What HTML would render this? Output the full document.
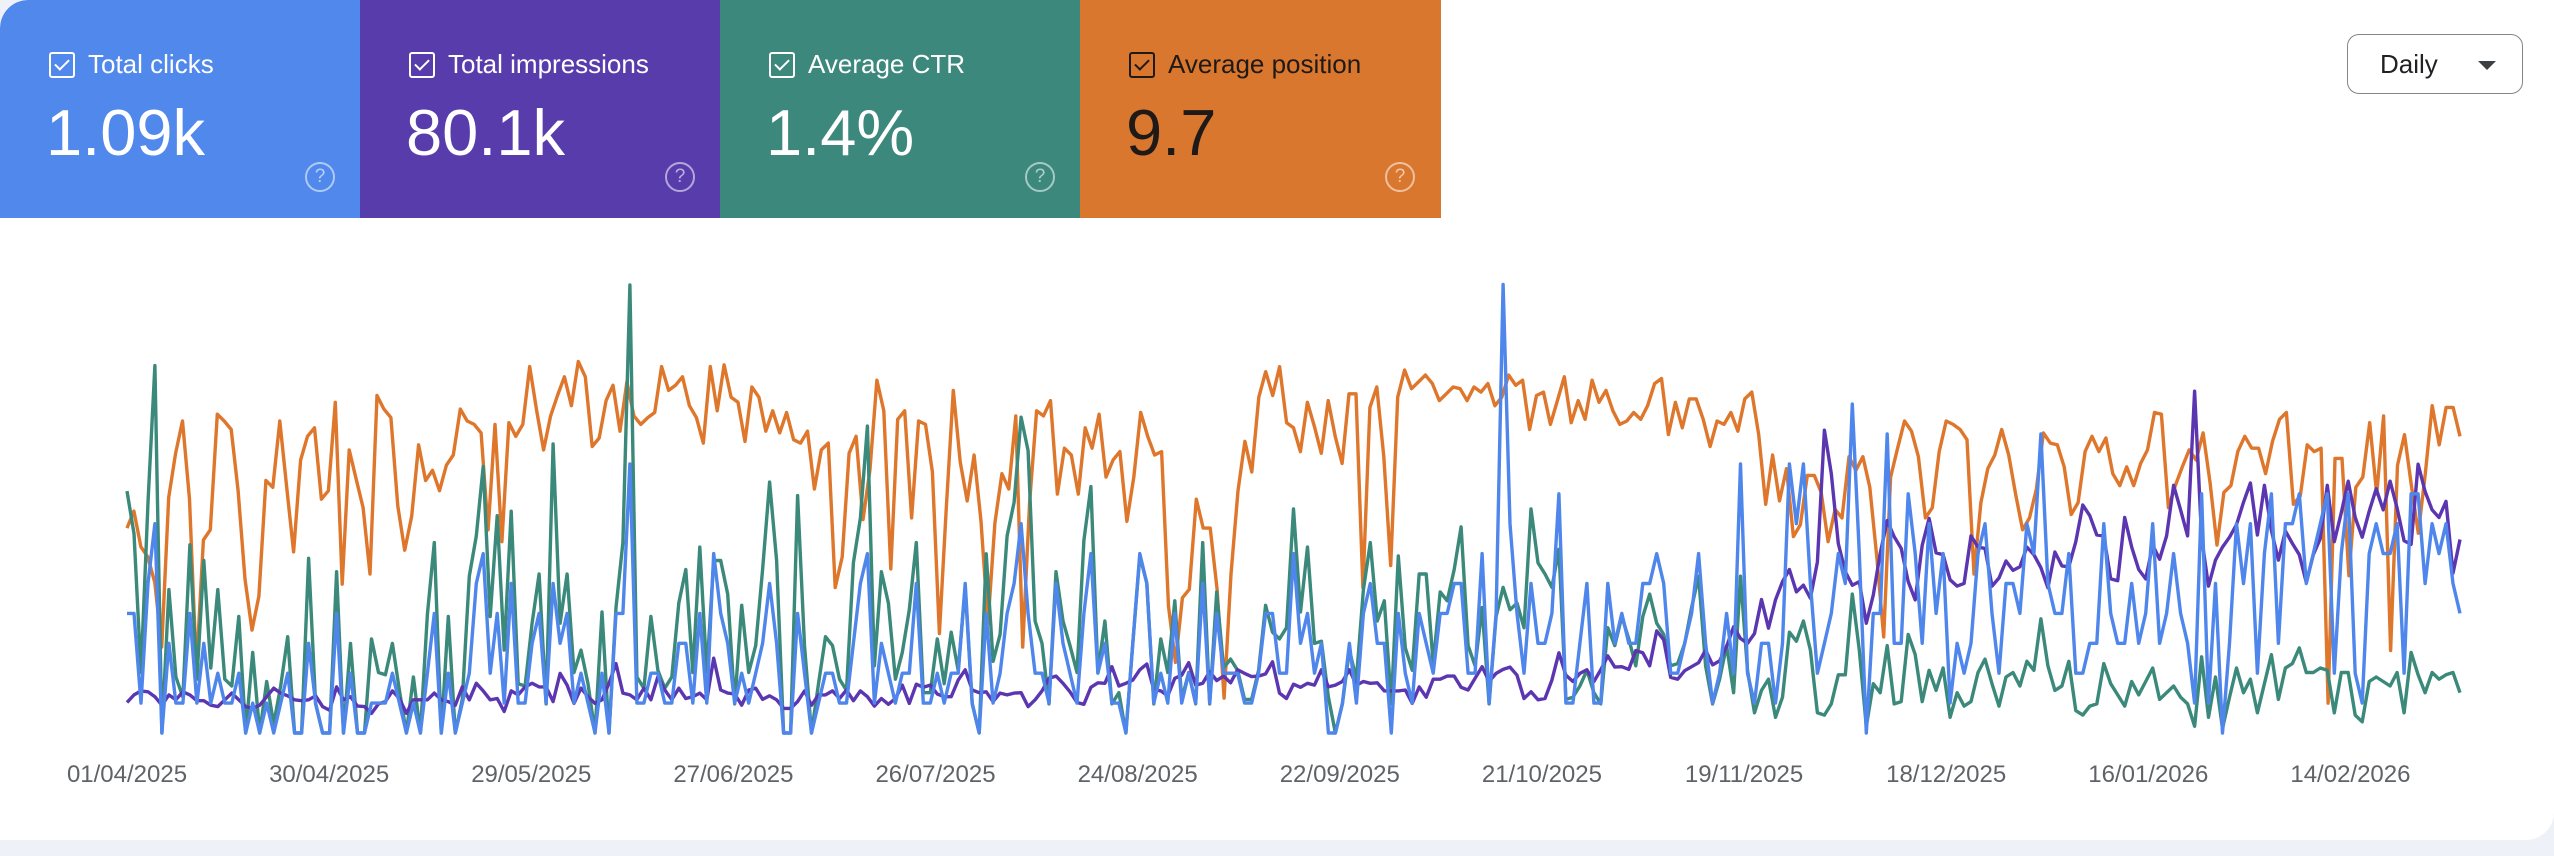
<!DOCTYPE html>
<html><head><meta charset="utf-8">
<style>
html,body{margin:0;padding:0;}
body{width:2554px;height:856px;background:#eef2f8;font-family:"Liberation Sans",Arial,sans-serif;overflow:hidden;position:relative;}
#panel{position:absolute;left:0;top:0;width:2554px;height:840px;background:#fff;border-radius:28px 0 28px 0;overflow:hidden;}
.card{position:absolute;top:0;width:360px;height:218px;color:#fff;}
.cb{position:absolute;left:49px;top:52px;width:22px;height:22px;border:2px solid currentColor;border-radius:3px;}
.cb::after{content:"";position:absolute;left:7px;top:2px;width:6px;height:12px;border-right:2px solid currentColor;border-bottom:2px solid currentColor;transform:rotate(45deg);}
.lbl{position:absolute;left:88px;top:48px;font-size:26px;line-height:32px;}
.num{position:absolute;left:46px;top:96px;font-size:65px;line-height:74px;}
.q{position:absolute;left:305px;top:162px;width:26px;height:26px;border:2px solid rgba(255,255,255,0.55);border-radius:50%;color:rgba(255,255,255,0.6);font-size:19px;line-height:26px;text-align:center;}
#daily{position:absolute;left:2347px;top:34px;width:176px;height:60px;border:1.5px solid #80868b;border-radius:12px;box-sizing:border-box;font-size:26px;color:#202124;}
#daily span{position:absolute;left:32px;top:14px;}
#daily i{position:absolute;left:130px;top:26px;width:0;height:0;border-left:9px solid transparent;border-right:9px solid transparent;border-top:9px solid #3c4043;}
svg{position:absolute;left:0;top:0;}
</style></head><body>
<div id="panel">
<div class="card" style="left:0;background:#5088ec;border-top-left-radius:28px"><div class="cb"></div><div class="lbl">Total clicks</div><div class="num">1.09k</div><div class="q">?</div></div>
<div class="card" style="left:360px;background:#583cab"><div class="cb"></div><div class="lbl">Total impressions</div><div class="num">80.1k</div><div class="q">?</div></div>
<div class="card" style="left:720px;background:#3c887c"><div class="cb"></div><div class="lbl">Average CTR</div><div class="num">1.4%</div><div class="q">?</div></div>
<div class="card" style="left:1080px;width:361px;background:#d9772f;color:#1f1a17"><div class="cb"></div><div class="lbl">Average position</div><div class="num">9.7</div><div class="q" style="border-color:rgba(255,255,255,0.55)">?</div></div>
<div id="daily"><span>Daily</span><i></i></div>
<svg id="chart" width="2554" height="840"></svg>
</div>
<script>
const tickDays=[0,29,58,87,116,145,174,203,232,261,290,319];
const tickLabels=["01/04/2025","30/04/2025","29/05/2025","27/06/2025","26/07/2025","24/08/2025","22/09/2025","21/10/2025","19/11/2025","18/12/2025","16/01/2026","14/02/2026"];
const position=[14.3,13.3,15.4,16.0,17.5,21.3,12.5,9.9,8.0,12.6,22.6,15.0,14.4,7.6,8.0,8.5,12.1,17.3,20.3,18.3,11.5,11.9,8.0,11.9,15.7,10.3,8.9,8.4,12.6,12.1,6.9,17.6,9.7,11.4,13.1,17.0,6.5,7.3,7.8,13.0,15.6,13.6,9.4,11.5,10.9,12.1,10.6,10.0,7.3,8.0,8.2,8.7,14.4,8.2,15.1,8.1,8.9,8.2,4.8,7.4,9.7,7.7,6.5,5.4,7.1,4.5,5.4,9.5,9.0,6.8,5.9,8.6,5.7,7.7,8.2,7.8,7.5,4.8,6.2,5.9,5.4,7.1,7.8,9.3,4.8,
7.4,4.7,6.6,6.9,9.2,6.0,6.6,8.6,7.4,8.7,7.5,9.1,9.3,8.6,12.0,9.7,9.3,17.8,16.0,9.9,8.9,13.8,10.9,5.6,7.4,16.7,7.9,7.4,13.7,8.0,8.2,11.0,20.5,13.1,6.2,10.4,12.7,10.0,13.9,19.9,14.0,11.1,12.0,7.7,21.3,12.8,7.4,7.7,6.8,12.3,9.6,10.0,12.3,8.4,9.6,7.6,11.3,10.3,9.8,13.9,11.3,7.5,8.9,10.0,9.8,18.9,22.2,18.4,17.9,12.6,14.3,14.3,17.9,24.3,17.0,12.1,9.2,11.0,6.6,5.1,6.5,4.8,8.1,8.4,9.8,6.9,
8.3,9.9,6.8,8.9,10.5,6.4,6.4,17.8,7.2,6.0,10.1,16.5,6.6,5.0,6.1,5.7,5.3,5.8,6.8,6.4,6.0,6.1,6.8,6.0,6.3,5.8,7.1,6.6,5.3,5.9,5.6,8.5,6.5,6.3,8.2,6.8,5.4,8.1,6.8,7.9,5.6,6.9,6.2,7.4,8.2,8.0,7.5,7.9,7.1,5.8,5.5,8.8,6.9,8.4,6.7,6.7,7.9,9.5,8.0,8.2,7.5,8.6,6.7,6.3,8.8,12.9,10.0,12.7,10.8,14.8,14.1,11.2,11.2,12.2,15.1,13.2,13.7,10.1,10.9,10.1,11.9,16.0,20.7,11.3,9.6,8.0,8.6,10.1,
13.7,13.1,9.8,8.0,8.2,8.5,9.1,17.0,12.8,10.8,10.0,8.5,10.0,12.3,14.4,13.7,12.0,8.7,9.3,9.4,10.7,13.5,12.8,9.8,8.9,9.8,9.0,11.1,11.8,10.7,11.8,10.5,9.7,7.5,7.6,13.1,11.8,10.7,9.7,10.3,8.7,11.6,15.3,12.2,11.8,9.8,8.9,9.6,9.6,11.1,9.2,7.9,7.5,12.9,12.4,9.4,9.8,9.6,24.6,10.2,10.2,17.1,11.9,11.3,8.1,12.3,7.7,21.5,10.6,8.8,11.8,14.6,11.1,7.1,9.4,7.2,7.2,8.9];
const clicks=[4,4,1,5,7,0,3,1,1,4,1,3,1,2,1,1,2,0,1,0,1,0,1,2,0,0,3,1,0,0,4,0,2,0,0,1,1,1,2,1,0,1,0,2,4,0,2,0,1,2,5,6,2,4,1,5,1,1,3,4,1,5,3,4,1,2,1,0,2,0,4,4,9,1,1,2,2,1,1,3,3,1,4,1,6,
4,3,1,2,1,2,3,5,3,0,0,4,2,0,1,2,2,1,1,3,5,6,1,3,2,1,2,2,5,1,1,2,1,2,2,5,1,0,4,1,2,4,5,7,4,2,2,1,5,3,2,1,4,6,2,3,1,1,0,3,6,5,1,2,1,4,1,2,1,5,1,4,2,2,2,1,1,2,4,4,2,2,6,3,4,2,
3,0,0,1,3,1,4,5,3,3,0,4,2,1,4,3,2,4,4,5,5,2,2,6,1,4,15,7,4,2,5,3,3,4,8,1,1,3,5,1,1,5,3,4,3,3,5,5,6,5,2,2,3,4,6,3,1,2,4,2,9,2,1,3,3,1,3,9,7,9,5,2,3,4,6,5,11,6,0,4,4,10,3,3,8,6,
3,7,4,6,1,3,2,3,6,7,4,2,5,5,4,7,6,10,5,4,4,6,2,2,3,3,7,4,3,3,5,3,4,7,3,4,6,4,3,1,8,1,5,0,3,7,5,7,2,6,8,3,7,7,8,5,6,7,8,2,6,8,2,1,6,7,6,6,7,2,8,8,5,7,6,7,5,4];
const ctr=[10.8,8.9,2.7,10.3,16.4,0,6.4,2.5,1.6,8.4,2.4,7.7,2.9,6.4,2.4,2.1,5.2,0,3.6,0,2.3,0.4,2.1,4.3,0,0,7.8,1.3,0,0,7.2,0,4,0,0,4.2,2.7,2.6,4,1.9,0,2.5,0,5.3,8.5,0,5.2,0,1.5,7,8.8,11.9,5.2,9.7,3.7,9.9,2.2,2.1,4.9,7.1,1.3,12.9,4.9,7.1,2.7,3.7,2.2,0,5.4,0,5.6,8.5,20,2.5,2,5.2,2.8,2,2.5,5.8,7.3,2.7,8.3,2.7,7.7,
7.7,6.2,1.3,5.7,2.7,3.9,7.3,11.2,7.7,0,0,10.6,3.9,0,2.2,4.3,3.9,2.4,1.9,7.6,9.6,13.7,3,7.2,5.8,2.4,3.6,5.5,8.5,1.8,1.8,4.2,2.2,4.5,2.8,6.5,1.3,0,8,3.2,4.4,8.8,10.3,14.1,12.6,5,4,1.3,7.2,5,3.9,2.7,8.6,11,2.7,5,1.3,1.8,0,4,7.9,6.7,1.3,4.2,2.7,5.9,1.5,2.7,1.3,8.5,1.3,6.3,2.9,3.3,2.8,1.5,1.5,2.8,5.7,4.5,4.2,4.7,10,5.4,8.3,4,
4.1,1.6,0,1.3,3.7,2.4,6.4,8.5,5,5.9,1.3,7.9,3.8,2.8,7.1,7.1,3.1,6.3,5.9,7.3,9.2,3.9,3,5.6,1.3,5.2,6.5,5.5,5.8,4.7,10,7.6,7.1,6.5,8.2,1.5,1.6,2.1,2.8,1.8,1.3,4.7,3.9,5.2,4.2,3,5.2,6.2,4.9,4.4,3,3.1,4,5.6,7,3,1.3,2.4,3.9,1.8,7,2.8,0.9,1.9,2.4,0.7,1.6,4.5,4.1,5,3.7,0.9,0.8,1.3,2.6,2.6,6.2,3.7,0.3,2.2,1.8,3.9,1.3,1.4,4.4,3.5,
1.4,2.8,1.9,2.9,0.7,1.8,1.2,1.4,2.7,3.3,2.2,1.2,2.5,2.7,2.1,3.2,2.8,5.1,3,1.9,2.1,3.2,1,0.8,1.2,1.3,3.1,2.2,1.7,1.2,2.3,1.7,2.3,2.9,1.5,1.8,2.1,1.6,1.3,0.3,3.4,0.7,2.5,0.2,1.6,2.9,1.8,2.4,0.9,2.2,3.5,1.5,2.9,3.1,3.8,2.7,2.7,2.9,2.8,0.9,2.7,2.7,0.8,0.5,2.3,2.5,2.3,2.1,2.7,0.9,3.6,2.6,1.8,2.7,2.4,2.6,2.7,1.8];
const impressions=[68,85,94,92,81,62,85,74,92,85,72,72,62,59,74,89,74,59,55,62,81,100,89,83,74,72,74,83,59,51,103,74,81,60,59,44,65,70,94,77,44,74,74,74,89,74,70,62,103,74,111,94,74,77,48,94,85,103,111,103,103,70,133,107,66,100,81,66,74,111,155,89,85,74,100,74,126,96,74,100,77,81,89,74,167,
96,89,87,62,96,100,75,83,74,55,55,70,94,62,85,85,94,77,96,72,94,81,60,77,64,77,107,66,109,102,107,87,81,81,118,141,96,90,92,70,89,85,89,90,59,74,94,122,127,111,92,68,64,102,112,111,148,105,111,118,141,154,97,94,83,122,129,157,107,111,137,117,127,112,141,133,126,127,132,159,89,77,109,102,111,107,
141,103,107,115,141,107,115,111,112,94,94,94,96,66,103,80,120,120,127,127,102,96,122,148,115,133,142,147,129,77,92,74,77,118,179,129,115,133,141,115,141,172,147,148,142,184,179,150,228,208,124,120,139,148,157,185,152,161,193,237,211,200,222,298,234,297,338,365,315,330,301,382,676,579,423,360,330,338,245,308,401,474,438,412,338,297,
419,479,402,398,342,328,334,440,415,412,328,346,384,363,371,415,398,369,324,404,373,371,427,509,485,442,440,344,340,481,415,365,344,419,388,440,553,498,440,763,436,328,386,415,437,465,515,558,442,553,452,386,451,423,398,336,398,434,553,427,492,562,481,437,495,545,498,562,502,429,421,600,539,498,481,517,357,432];

const svg=document.getElementById('chart');
const NS='http://www.w3.org/2000/svg';
const nDays=clicks.length;
function xDay(i){return 127+i*(2460-127)/(nDays-1);}
function xSeries(i,len){return 127+i*(2460-127)/(len-1);}
function yPos(p){return 285+p*17;}
function yClk(c){return 733-c*29.9;}
function yCtr(v){return 733-v*22.4;}
function yImp(v){return 733-v*0.448;}
function drawLine(arr,yf,color,name){
  const p=document.createElementNS(NS,'polyline');
  p.setAttribute('points',arr.map((v,i)=>xSeries(i,arr.length).toFixed(1)+','+yf(v).toFixed(1)).join(' '));
  p.setAttribute('fill','none');p.setAttribute('stroke',color);p.setAttribute('stroke-width','3.4');
  p.setAttribute('stroke-linejoin','round');
  
  
  svg.appendChild(p);
}
drawLine(position,yPos,'#de772c','position-line');
drawLine(ctr,yCtr,'#3b897a','ctr-line');
drawLine(impressions,yImp,'#5b36b0','impressions-line');
drawLine(clicks,yClk,'#4f86ec','clicks-line');
tickDays.forEach((d,i)=>{
  const t=document.createElementNS(NS,'text');
  t.setAttribute('x',127+d*6.97);t.setAttribute('y',782);
  t.setAttribute('text-anchor','middle');t.setAttribute('font-size','24');
  t.setAttribute('fill','#5f6368');t.setAttribute('font-family','Liberation Sans, Arial, sans-serif');
  t.textContent=tickLabels[i];
  
  
  svg.appendChild(t);
});
</script>
</body></html>
